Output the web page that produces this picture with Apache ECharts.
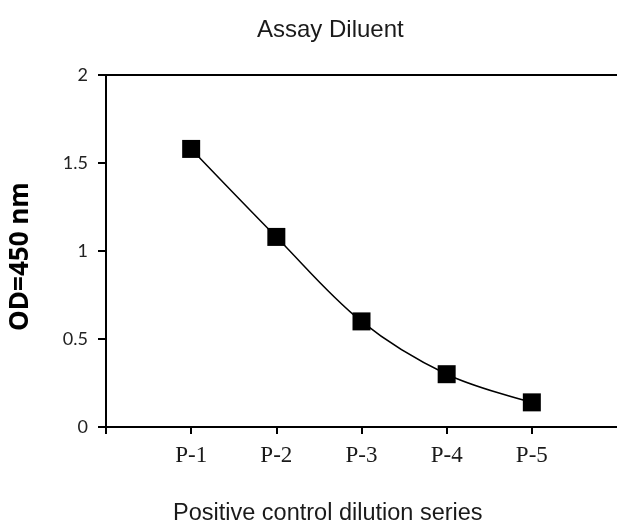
<!DOCTYPE html>
<html>
<head>
<meta charset="utf-8">
<script src="https://cdn.jsdelivr.net/npm/echarts@6/dist/echarts.min.js"></script>
<style>
html,body{margin:0;padding:0;background:#fff;overflow:hidden;}
#chart{width:617px;height:525px;}
</style>
</head>
<body>
<div id="chart"></div>
<script>
const categories = ['P-1', 'P-2', 'P-3', 'P-4', 'P-5'];
const odValues = [1.58, 1.08, 0.60, 0.30, 0.14];
const yTicks = [0, 0.5, 1, 1.5, 2];

const chart = echarts.init(document.getElementById('chart'));
const seriesData = categories.map((c, i) => [i + 1, odValues[i]]);
const tickPositions = [0].concat(categories.map((c, i) => i + 1));
const labelPositions = categories.map((c, i) => i + 1);

chart.setOption({
  animation: false,
  backgroundColor: '#fff',
  title: [
    {
      text: 'Assay Diluent',
      left: 252, top: 13,
      textStyle: {fontFamily: 'Liberation Sans', fontSize: 24, fontWeight: 'normal', color: '#1a1a1a'}
    },
    {
      text: 'Positive control dilution series',
      left: 168, top: 497,
      textStyle: {fontFamily: 'Liberation Sans', fontSize: 23.5, fontWeight: 'normal', color: '#1a1a1a'}
    }
  ],
  grid: {left: 104, width: 516, top: 75, height: 352, containLabel: false},
  xAxis: [
    {
      type: 'value', min: 0, max: categories.length + 1, interval: 1,
      axisLine: {show: true, onZero: false, lineStyle: {color: '#000', width: 2}},
      axisTick: {show: true, inside: false, length: 7, customValues: tickPositions, lineStyle: {color: '#000', width: 2}},
      axisLabel: {
        margin: 17,
        customValues: labelPositions,
        fontFamily: 'Liberation Serif', fontSize: 23, color: '#1a1a1a',
        formatter: v => (v >= 1 && v <= categories.length) ? categories[v - 1] : ''
      },
      splitLine: {show: false}
    },
    {
      type: 'value', position: 'top', min: 0, max: categories.length + 1,
      axisLine: {show: true, onZero: false, lineStyle: {color: '#000', width: 2}},
      axisTick: {show: false}, axisLabel: {show: false}, splitLine: {show: false}
    }
  ],
  yAxis: {
    type: 'value', min: yTicks[0], max: yTicks[yTicks.length - 1], interval: 0.5,
    name: 'OD=450 nm', nameLocation: 'middle', nameRotate: 90, nameGap: 72,
    nameTextStyle: {fontFamily: 'Open Sans', fontSize: 26, fontWeight: 'bold', color: '#000', padding: [0, 11, 0, 0]},
    axisLine: {show: true, lineStyle: {color: '#000', width: 2}},
    axisTick: {show: true, inside: false, length: 8, lineStyle: {color: '#000', width: 2}},
    axisLabel: {margin: 18, fontFamily: 'Lato', fontSize: 18, color: '#222'},
    splitLine: {show: false}
  },
  series: [{
    type: 'line',
    xAxisIndex: 0,
    data: seriesData,
    smooth: 0.35,
    symbol: 'rect',
    symbolSize: 18,
    itemStyle: {color: '#000'},
    lineStyle: {color: '#000', width: 1.5}
  }]
});
</script>
</body>
</html>
